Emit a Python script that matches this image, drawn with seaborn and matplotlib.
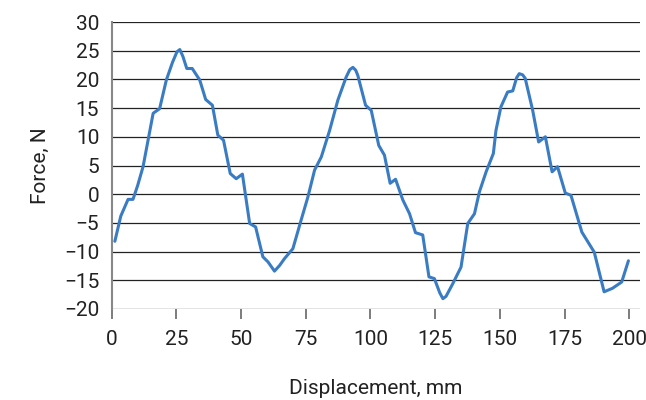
import numpy as np
import pandas as pd
import matplotlib
matplotlib.use('Agg')
import matplotlib.pyplot as plt
import seaborn as sns

# Values
displacement = [1.2, 3.5, 6.3, 8.2, 10.0, 12.1, 16.0, 18.5, 21.1, 23.5, 25.2,
                26.3, 27.5, 29.0, 31.1, 34.0, 36.3, 38.9, 41.0, 43.2, 45.8,
                48.1, 50.5, 53.3, 55.6, 58.4, 60.4, 62.9, 64.9, 66.8, 70.0,
                73.2, 75.8, 78.4, 81.0, 84.2, 87.4, 90.6, 92.0, 93.2, 94.3,
                95.1, 98.1, 100.3, 103.2, 105.4, 107.6, 109.7, 112.5, 115.1,
                117.4, 120.2, 122.6, 124.7, 126.8, 128.0, 129.2, 131.8, 135.0,
                137.6, 140.2, 142.1, 144.7, 147.5, 148.5, 150.4, 153.0, 155.0,
                156.5, 157.5, 158.8, 159.8, 162.7, 165.0, 167.6, 170.2, 172.3,
                175.3, 177.5, 181.7, 186.5, 190.3, 193.5, 197.1, 199.7]
force = [-8.2, -3.8, -0.9, -0.9, 1.5, 4.8, 14.1, 14.9, 19.9, 23.0, 24.8,
         25.2, 24.0, 21.9, 21.9, 19.9, 16.5, 15.5, 10.3, 9.4, 3.6,
         2.7, 3.5, -5.1, -5.7, -10.9, -11.8, -13.4, -12.4, -11.2, -9.5,
         -4.5, -0.5, 4.2, 6.5, 11.1, 16.4, 20.4, 21.7, 22.1, 21.6,
         20.7, 15.5, 14.6, 8.5, 6.8, 1.9, 2.6, -1.0, -3.4,
         -6.7, -7.1, -14.4, -14.7, -17.2, -18.2, -17.8, -15.6, -12.7,
         -5.1, -3.4, 0.4, 3.9, 7.1, 11.1, 15.2, 17.8, 18.0,
         20.3, 21.0, 20.8, 20.2, 14.6, 9.1, 10.0, 3.9, 4.8,
         0.2, -0.2, -6.6, -10.1, -17.0, -16.4, -15.3, -11.6]

x_ticks = [0, 25, 50, 75, 100, 125, 150, 175, 200]
y_ticks = [-20, -15, -10, -5, 0, 5, 10, 15, 20, 25, 30]

df = pd.DataFrame({'Displacement': displacement, 'Force': force})

sns.set_style('white')
plt.rcParams['font.family'] = ['Roboto', 'DejaVu Sans']

fig = plt.figure(figsize=(6.46, 4.0), dpi=100)
ax = fig.add_axes([0.173, 0.2275, 0.817, 0.7175])

for yv in y_ticks:
    ax.axhline(yv, color='#222222', lw=0.9, zorder=1)

sns.lineplot(data=df, x='Displacement', y='Force', ax=ax, color='#3a7cc4',
             lw=2.2, sort=False, zorder=3, solid_joinstyle='round',
             solid_capstyle='round')

ax.set_xlim(0, 204)
ax.set_ylim(-20, 30)
ax.set_xticks(x_ticks)
ax.set_yticks(y_ticks)
ax.set_yticklabels([str(v).replace('-', '\u2212') for v in y_ticks])

for side in ['top', 'right', 'bottom']:
    ax.spines[side].set_visible(False)
ax.spines['left'].set_color('#888888')
ax.spines['left'].set_linewidth(1.5)

ax.tick_params(axis='y', direction='inout', length=14, width=1.2,
               color='#666666', labelsize=15, labelcolor='#222222', pad=2)
ax.tick_params(axis='x', direction='out', length=7, width=1.2,
               color='#666666', labelsize=15, labelcolor='#222222', pad=8,
               bottom=True)

ax.set_xlabel('Displacement, mm', fontsize=15, color='#222222', labelpad=22)
ax.set_ylabel('Force, N', fontsize=15, color='#222222', labelpad=10)

fig.savefig('out.png', dpi=100)
